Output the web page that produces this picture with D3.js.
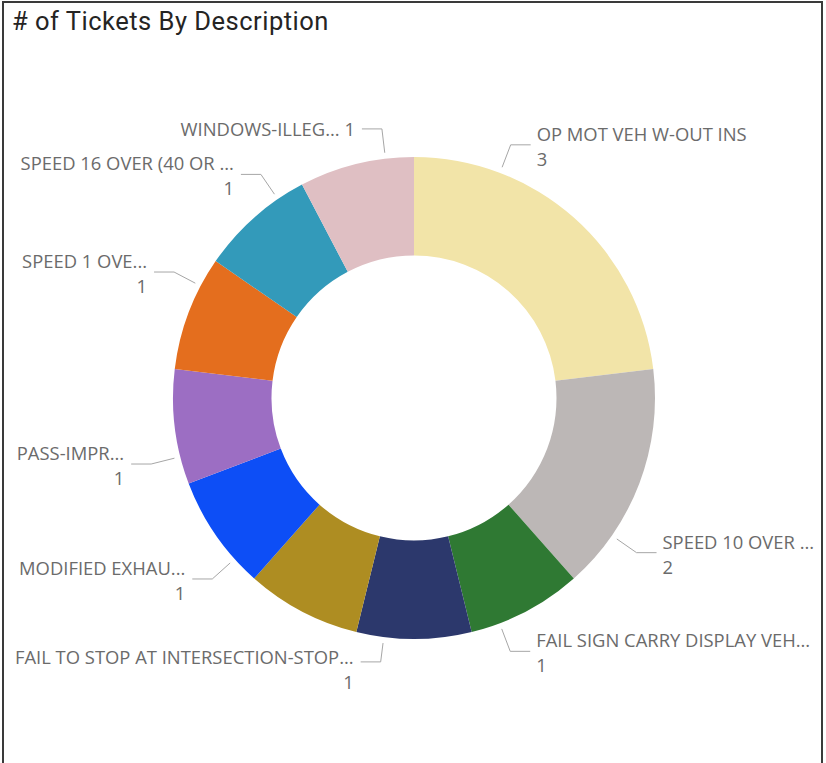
<!DOCTYPE html>
<html>
<head>
<meta charset="utf-8">
<script src="https://cdn.jsdelivr.net/npm/d3@7/dist/d3.min.js"></script>
<style>
  html, body { margin: 0; padding: 0; background: #fff; }
  svg { display: block; }
</style>
</head>
<body>
<div id="chart"></div>
<script>
// Ticket counts per violation description (clockwise from 12 o'clock)
const categories = [
  "OP MOT VEH W-OUT INS",
  "SPEED 10 OVER ...",
  "FAIL SIGN CARRY DISPLAY VEH...",
  "FAIL TO STOP AT INTERSECTION-STOP...",
  "OTHER",
  "MODIFIED EXHAU...",
  "PASS-IMPR...",
  "SPEED 1 OVE...",
  "SPEED 16 OVER (40 OR ...",
  "WINDOWS-ILLEG..."
];
const ticketCounts = [3, 2, 1, 1, 1, 1, 1, 1, 1, 1];
const sliceColors = [
  "#F2E4A8", "#BCB7B6", "#2F7933", "#2C386C", "#AE8D22",
  "#0D4EF6", "#9C6EC3", "#E46E1E", "#339ABA", "#DFBFC3"
];

// Data-label layout: leader anchor angle (degrees clockwise from top),
// elbow radius, whether the value sits on the same line, and a vertical nudge.
const labelLayout = [
  { angle: 20.9,  elbow: 271, inline: false, dy: 0 },
  { angle: 124.8, elbow: 271, inline: false, dy: 0 },
  { angle: 159.2, elbow: 271, inline: false, dy: 0 },
  { angle: 187.2, elbow: 266, inline: false, dy: 6 },
  null,
  { angle: 228.1, elbow: 271, inline: false, dy: 0 },
  { angle: 255.9, elbow: 271, inline: false, dy: 0 },
  { angle: 297.7, elbow: 271, inline: false, dy: 0 },
  { angle: 325.6, elbow: 271, inline: false, dy: 0 },
  { angle: 353.2, elbow: 271, inline: true,  dy: 11 }
];

const W = 826, H = 763;
const cx = 414, cy = 398;
const outerR = 241, innerR = 142.5;

const svg = d3.select("#chart").append("svg")
  .attr("width", W).attr("height", H);

// visual frame
svg.append("rect")
  .attr("x", 3).attr("y", 2)
  .attr("width", 819).attr("height", H + 20)
  .attr("fill", "none")
  .attr("stroke", "#3a3a3a")
  .attr("stroke-width", 2);

svg.append("text")
  .attr("x", 12).attr("y", 30)
  .attr("font-family", "Roboto, 'DejaVu Sans', sans-serif")
  .attr("font-size", 25.5)
  .attr("letter-spacing", 0.5)
  .attr("fill", "#252423")
  .text("# of Tickets By Description");

const rows = categories.map((c, i) => ({
  name: c, value: ticketCounts[i], color: sliceColors[i], layout: labelLayout[i]
}));

const pie = d3.pie().value(d => d.value).sort(null);
const arc = d3.arc().innerRadius(innerR).outerRadius(outerR);
const arcs = pie(rows);

const g = svg.append("g").attr("transform", `translate(${cx},${cy})`);

g.selectAll("path.slice")
  .data(arcs)
  .join("path")
  .attr("class", "slice")
  .attr("d", arc)
  .attr("fill", d => d.data.color);

// leader lines and labels
const rad = Math.PI / 180;
const polar = (deg, r) => [r * Math.sin(deg * rad), -r * Math.cos(deg * rad)];
const labelFont = "'Segoe UI', 'Open Sans', 'Noto Sans', sans-serif";
const labelSize = 18.4;

const labelled = arcs.filter(d => d.data.layout);
const lg = g.selectAll("g.lbl").data(labelled).join("g").attr("class", "lbl");

lg.each(function (d) {
  const L = d.data.layout;
  const right = L.angle < 180;
  const p0 = polar(L.angle, outerR + 6);
  const p1 = polar(L.angle, L.elbow);
  const p2 = [p1[0] + (right ? 20 : -20), p1[1]];
  const sel = d3.select(this);
  sel.append("polyline")
    .attr("points", [p0, p1, p2].map(p => p.join(",")).join(" "))
    .attr("fill", "none")
    .attr("stroke", "#a6a6a6")
    .attr("stroke-width", 1);

  const tx = p2[0] + (right ? 6 : -7);
  const anchor = right ? "start" : "end";
  const base = p2[1] - 4 + L.dy;
  const t = sel.append("text")
    .attr("x", tx).attr("y", base)
    .attr("text-anchor", anchor)
    .attr("font-family", labelFont)
    .attr("font-size", labelSize)
    .attr("fill", "#6b6b6b");
  if (L.inline) {
    t.text(d.data.name + " " + d.data.value);
  } else {
    t.text(d.data.name);
    sel.append("text")
      .attr("x", tx).attr("y", base + 25)
      .attr("text-anchor", anchor)
      .attr("font-family", labelFont)
      .attr("font-size", labelSize)
      .attr("fill", "#6b6b6b")
      .text(d.data.value);
  }
});
</script>
</body>
</html>
